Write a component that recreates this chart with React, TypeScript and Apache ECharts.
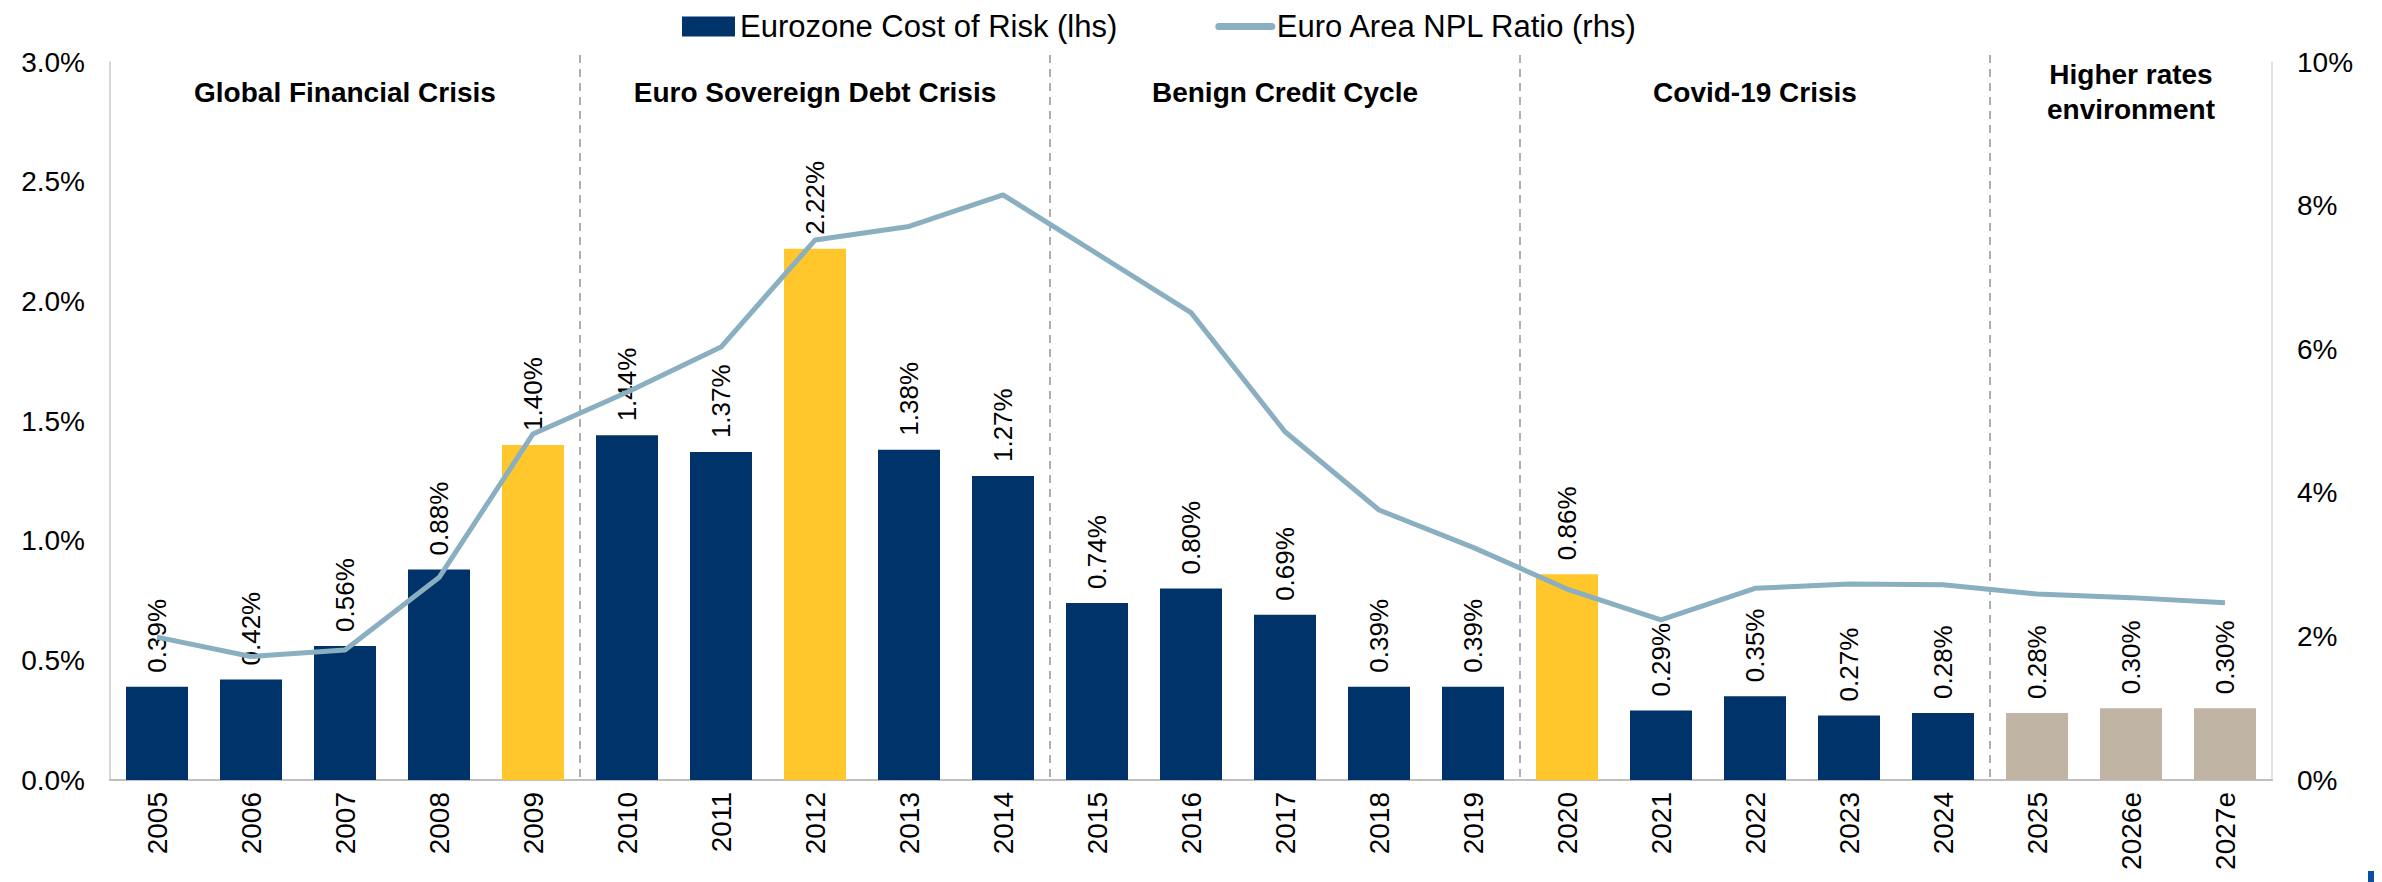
import React, { useEffect, useRef } from 'react';
import * as echarts from 'echarts';

const categories = ['2005', '2006', '2007', '2008', '2009', '2010', '2011', '2012', '2013', '2014', '2015', '2016', '2017', '2018', '2019', '2020', '2021', '2022', '2023', '2024', '2025', '2026e', '2027e'];
const costOfRisk = [0.39, 0.42, 0.56, 0.88, 1.40, 1.44, 1.37, 2.22, 1.38, 1.27, 0.74, 0.80, 0.69, 0.39, 0.39, 0.86, 0.29, 0.35, 0.27, 0.28, 0.28, 0.30, 0.30];
const nplRatio = [1.99, 1.72, 1.81, 2.82, 4.82, 5.40, 6.03, 7.52, 7.71, 8.15, 7.33, 6.51, 4.85, 3.76, 3.24, 2.66, 2.23, 2.67, 2.73, 2.72, 2.59, 2.54, 2.47];
const crisisYears = ['2009', '2012', '2020'];
const forecastYears = ['2025', '2026e', '2027e'];
const phaseNames = ['Global Financial Crisis', 'Euro Sovereign Debt Crisis', 'Benign Credit Cycle', 'Covid-19 Crisis', 'Higher rates\nenvironment'];
const phaseFirst = ['2005', '2010', '2015', '2020', '2025'];
const phaseLast = ['2009', '2014', '2019', '2024', '2027e'];
const leftTicks = { min: 0, max: 3, interval: 0.5 };
const rightTicks = { min: 0, max: 10, interval: 2 };

const NAVY = '#003369';
const YELLOW = '#FFC72C';
const BEIGE = '#C0B5A5';
const LINE = '#89AFC1';
const FONT = "'Liberation Sans', Arial, sans-serif";

export default function App() {
  const ref = useRef<HTMLDivElement>(null);
  useEffect(() => {
    if (!ref.current) return;
    const chart = echarts.init(ref.current, null, { renderer: 'svg' });
    const barData = costOfRisk.map((v, i) => {
      const c = categories[i];
      const color = crisisYears.includes(c) ? YELLOW : forecastYears.includes(c) ? BEIGE : NAVY;
      return { value: v, itemStyle: { color } };
    });
    chart.setOption({
      animation: false,
      textStyle: { fontFamily: FONT },
      legend: {
        left: 677,
        top: 6,
        itemWidth: 53,
        itemHeight: 20,
        itemGap: 98,
        textStyle: { fontSize: 31, color: '#000', fontFamily: FONT },
        data: [
          { name: 'Eurozone Cost of Risk (lhs)', icon: 'rect' },
          { name: 'Euro Area NPL Ratio (rhs)', itemStyle: { opacity: 0 }, lineStyle: { width: 7, cap: 'round', color: LINE } },
        ],
      },
      grid: { left: 110, right: 110, top: 62, bottom: 102, containLabel: false },
      xAxis: {
        type: 'category',
        data: categories,
        axisLine: { show: true, lineStyle: { color: '#BFBFBF', width: 2 } },
        axisTick: { show: false },
        axisLabel: { rotate: 90, fontSize: 28, color: '#000', margin: 12, fontFamily: FONT, interval: 0 },
      },
      yAxis: [
        {
          type: 'value',
          min: leftTicks.min,
          max: leftTicks.max,
          interval: leftTicks.interval,
          splitLine: { show: false },
          axisTick: { show: false },
          axisLine: { show: true, lineStyle: { color: '#C8C8C8', width: 1.5 } },
          axisLabel: { fontSize: 28, color: '#000', margin: 25, fontFamily: FONT, formatter: (v: number) => v.toFixed(1) + '%' },
        },
        {
          type: 'value',
          min: rightTicks.min,
          max: rightTicks.max,
          interval: rightTicks.interval,
          splitLine: { show: false },
          axisTick: { show: false },
          axisLine: { show: true, lineStyle: { color: '#D9D9D9', width: 1.5 } },
          axisLabel: { fontSize: 28, color: '#000', margin: 25, fontFamily: FONT, formatter: (v: number) => v + '%' },
        },
      ],
      series: [
        {
          name: 'Eurozone Cost of Risk (lhs)',
          type: 'bar',
          yAxisIndex: 0,
          barWidth: 62,
          itemStyle: { color: NAVY },
          data: barData,
          label: {
            show: true,
            position: 'top',
            rotate: 90,
            align: 'left',
            verticalAlign: 'middle',
            distance: 14,
            fontSize: 26,
            color: '#000',
            fontFamily: FONT,
            formatter: (p: any) => Number(p.value).toFixed(2) + '%',
          },
          z: 2,
        },
        {
          name: 'Euro Area NPL Ratio (rhs)',
          type: 'line',
          yAxisIndex: 1,
          data: nplRatio,
          showSymbol: false,
          symbol: 'none',
          lineStyle: { color: LINE, width: 5 },
          itemStyle: { color: LINE },
          z: 3,
        },
      ],
    });

    const px = (c: string) => chart.convertToPixel({ xAxisIndex: 0 }, c) as number;
    const yBottom = chart.convertToPixel({ yAxisIndex: 0 }, 0) as number;
    const graphics: any[] = [];
    for (let i = 0; i < phaseFirst.length; i++) {
      const cx = (px(phaseFirst[i]) + px(phaseLast[i])) / 2;
      graphics.push({
        type: 'text',
        x: cx,
        y: 92,
        style: {
          text: phaseNames[i],
          fontSize: 28,
          fontWeight: 'bold',
          fontFamily: FONT,
          fill: '#000',
          align: 'center',
          verticalAlign: 'middle',
          lineHeight: 35,
        },
        z: 10,
      });
      if (i > 0) {
        const bx = (px(phaseLast[i - 1]) + px(phaseFirst[i])) / 2;
        graphics.push({
          type: 'line',
          shape: { x1: bx, y1: 55, x2: bx, y2: yBottom },
          style: { stroke: '#8E969C', lineWidth: 1.5, lineDash: [8, 6] },
          z: 1,
        });
      }
    }
    graphics.push({ type: 'rect', shape: { x: 2368, y: 871, width: 6, height: 11 }, style: { fill: '#0B4EA2' } });
    chart.setOption({ graphic: graphics });

    return () => chart.dispose();
  }, []);
  return <div ref={ref} style={{ position: 'absolute', left: 0, top: 0, width: 2382, height: 882 }} />;
}
